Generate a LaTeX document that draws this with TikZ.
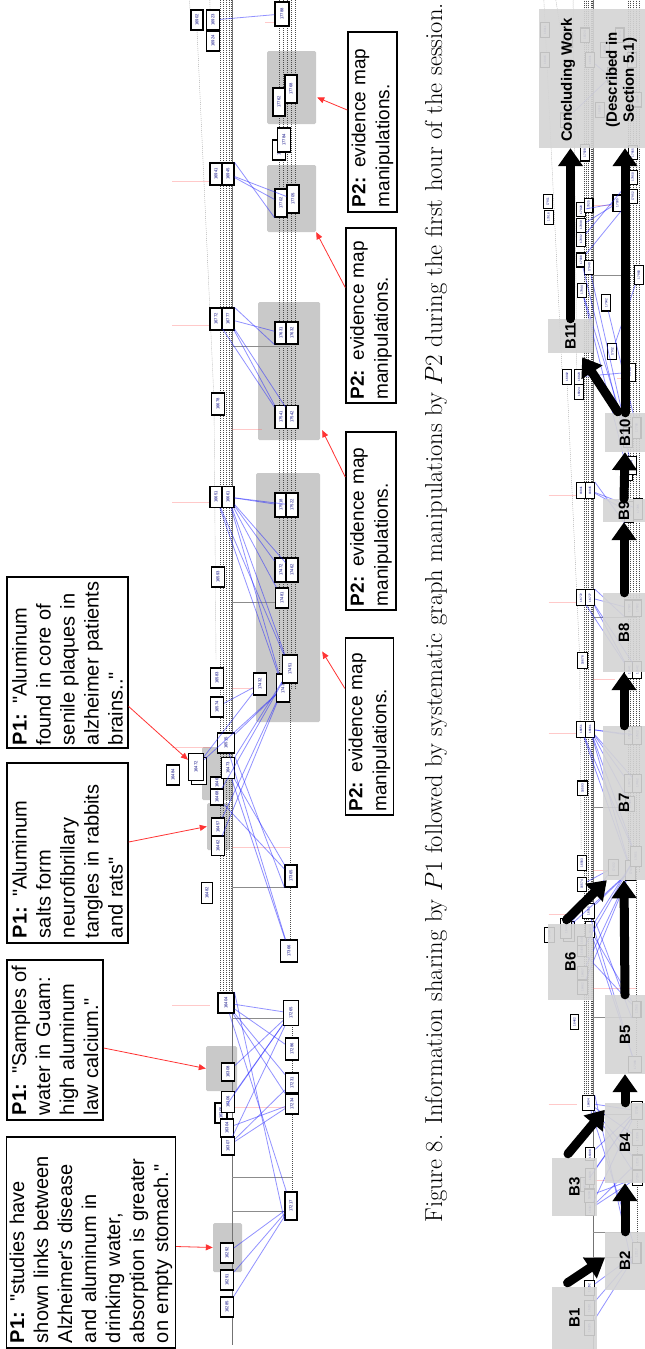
\documentclass[tikz,border=0pt]{standalone}
\usepackage{fontspec}
\usepackage{graphicx}
\newfontfamily\arial{Liberation Sans}
\usetikzlibrary{arrows.meta,calc}

\definecolor{grectc}{gray}{0.79}
\definecolor{bboxc}{gray}{0.83}

\tikzset{
  nb/.style 2 args={rotate=90, draw=black, line width=1.1pt, fill=white, inner sep=0pt,
    minimum width=#2, minimum height=#1, font=\arial\fontsize{4.2}{5}\selectfont, text=blue!50!black},
  grect/.style={fill=grectc, draw=none, rounded corners=1.5pt, inner sep=0pt},
  grecthid/.style={draw=none, inner sep=0pt},
  be/.style={draw=blue!85, opacity=0.5, line width=0.8pt},
  gl/.style={draw=black!45, line width=0.5pt},
  rl/.style={draw=red!60, opacity=0.35, line width=0.6pt},
  dl/.style={draw=black!70, line width=0.4pt, dash pattern=on 1pt off 1pt},
  dlg/.style={draw=black!35, line width=0.4pt, dash pattern=on 1pt off 1pt},
  axisl/.style={draw=black!55, line width=0.8pt},
  pone/.style={rotate=90, draw=black, line width=1.4pt, fill=white, align=left, inner sep=3pt,
    font=\arial\fontsize{20}{24}\selectfont},
  ptwo/.style={rotate=90, draw=black, line width=1.5pt, fill=white, align=left, inner sep=3pt,
    font=\arial\fontsize{19}{24}\selectfont},
  rarrow/.style={draw=red!80, line width=0.8pt, -{Triangle[length=7pt,width=6pt]}},
  bbox/.style={fill=bboxc, fill opacity=0.9, draw=none, inner sep=0pt},
  blab/.style={font=\arial\bfseries\fontsize{15}{17}\selectfont, inner sep=0pt},
  barrow/.style={draw=black, line width=9pt, line cap=round, -{Triangle[length=18pt,width=24pt]}},
}

\newcommand\drawgraph[2]{%
  % grey regions
  \node[#2, minimum width=31, minimum height=45] (#1g1) at (221.5,1068.5) {};
  \node[#2, minimum width=29, minimum height=49] (#1g2) at (227.5,1247.5) {};
  \node[#2, minimum width=23, minimum height=47] (#1g3) at (218.5,826.5) {};
  \node[#2, minimum width=31, minimum height=53] (#1g4) at (217.5,773.5) {};
  \node[#2, minimum width=64, minimum height=249] (#1g5) at (288,597.5) {};
  \node[#2, minimum width=62, minimum height=138] (#1g6) at (289,371) {};
  \node[#2, minimum width=49, minimum height=67] (#1g7) at (291.5,198.5) {};
  \node[#2, minimum width=49, minimum height=73] (#1g8) at (291.5,87.5) {};
  % axis and bands
  \draw[axisl] (232,-500) -- (232,1345);
  \foreach \xx in {220,223,226,229,231}{\draw[dl] (\xx,-500) -- (\xx,1000);}
  \foreach \xx in {279,283,287,291,295}{\draw[dl] (\xx,-500) -- (\xx,690);}
  \draw[dl] (290,690) -- (290,950);
  \draw[dl] (292,1013) -- (292,1205);
  \draw[dlg] (165,-500) -- (190,10);
  \draw[dlg] (205,-500) -- (210,10);
  \draw[dlg] (197,30) -- (214,400) -- (216,660);
  \draw[dlg] (180,-500) -- (213,-300);
  % grey horizontals
  \draw[gl] (232,1018) -- (292,1018);
  \draw[gl] (232,1177) -- (292,1177);
  \draw[gl] (232,1211) -- (292,1211);
  \draw[gl] (232,887) -- (290,887);
  \draw[gl] (232,602) -- (285,602);
  \draw[gl] (232,346) -- (290,346);
  \draw[gl] (232,-118) -- (300,-118);
  % faint red horizontals
  \draw[rl] (172,1005) -- (210,1005);
  \draw[rl] (172,747) -- (210,747);
  \draw[rl] (172,502) -- (210,502);
  \draw[rl] (172,325) -- (210,325);
  \draw[rl] (172,181) -- (210,181);
  \draw[rl] (232,1107) -- (292,1107);
  \draw[rl] (232,847) -- (290,847);
  \draw[rl] (232,688) -- (255,688);
  \draw[rl] (232,429) -- (262,429);
  \draw[rl] (265,22) -- (290,22);
  \draw[rl] (225,-212) -- (262,-212);
  % nodes near the axis
  \node[nb={13}{20}] (#1n1) at (227,1307) {16285};
  \node[nb={13}{20}] (#1n2) at (227,1280) {16291};
  \node[nb={13}{20}] (#1n3) at (227,1253) {16292};
  \node[nb={12}{20}] (#1n5) at (221,1113) {16305};
  \node[nb={13}{21}] (#1n4) at (228,1102) {16306};
  \node[nb={13}{18}] (#1n7) at (227,1128) {16304};
  \node[nb={13}{18}] (#1n6) at (228,1146) {16307};
  \node[nb={13}{18}] (#1n8) at (228,1072) {16308};
  \node[nb={16}{20}] (#1n9) at (226,1003) {16404};
  \node[nb={11}{21}] (#1n10) at (207,893) {16482};
  \node[nb={13}{20}] (#1n11) at (173,775) {16484};
  \node[nb={15}{27}] (#1n12s) at (199,771) {};
  \node[nb={15}{27}] (#1n12) at (196,767) {16472};
  \node[nb={13}{18}] (#1n13a) at (218,827) {16457};
  \node[nb={13}{19}] (#1n13b) at (218,846) {16462};
  \node[nb={13}{12}] (#1n14) at (217,783) {1646};
  \node[nb={13}{16}] (#1n15) at (217,797) {16468};
  \node[nb={13}{21}] (#1n16) at (228,768) {16473};
  \node[nb={17}{20}] (#1n17) at (226,743) {16515};
  \node[nb={13}{20}] (#1n18) at (217,707) {16574};
  \node[nb={13}{20}] (#1n19) at (217,678) {16583};
  \node[nb={13}{20}] (#1n20) at (218,577) {16593};
  \node[nb={12}{21}] (#1n21a) at (216,497) {16651};
  \node[nb={12}{21}] (#1n21b) at (228,497) {16661};
  \node[nb={13}{22}] (#1n22) at (218,404) {16678};
  \node[nb={12}{22}] (#1n23a) at (216,319) {16772};
  \node[nb={12}{22}] (#1n23b) at (228,319) {16777};
  \node[nb={12}{20}] (#1n24) at (197,20) {16902};
  \node[nb={13}{20}] (#1n25a) at (213,20) {16923};
  \node[nb={13}{20}] (#1n25b) at (213,41) {16924};
  \node[nb={12}{22}] (#1n26a) at (216,174) {16941};
  \node[nb={12}{22}] (#1n26b) at (228,174) {16945};
  % right column
  \node[nb={12}{28}] (#1r1) at (291,1206) {17217};
  \node[nb={13}{20}] (#1r2a) at (292,1083) {17231};
  \node[nb={13}{20}] (#1r2b) at (292,1104) {17234};
  \node[nb={13}{22}] (#1r3) at (292,1049) {17286};
  \node[nb={15}{25}] (#1r4) at (291,1013) {17265};
  \node[nb={12}{22}] (#1r5) at (291,876) {17365};
  \node[nb={17}{22}] (#1r6) at (289,951) {17366};
  \node[nb={13}{22}] (#1r7) at (260,684) {17432};
  \node[nb={13}{28}] (#1r8) at (283,688) {17439};
  \node[nb={15}{28}] (#1r9) at (290,669) {17451};
  \node[nb={13}{20}] (#1r10) at (282,598) {17481};
  \node[nb={12}{24}] (#1r11a) at (281,570) {17472};
  \node[nb={12}{24}] (#1r11b) at (292,570) {17462};
  \node[nb={12}{24}] (#1r12a) at (281,505) {17518};
  \node[nb={12}{24}] (#1r12b) at (292,505) {17522};
  \node[nb={12}{23}] (#1r13a) at (281,417) {17541};
  \node[nb={12}{23}] (#1r13b) at (292,417) {17542};
  \node[nb={12}{22}] (#1r14a) at (281,333) {17631};
  \node[nb={12}{22}] (#1r14b) at (292,333) {17632};
  \node[nb={12}{28}] (#1r15a) at (281,203) {17702};
  \node[nb={12}{28}] (#1r15b) at (293,199) {17705};
  \node[nb={13}{20}] (#1r16b) at (279,150) {17781};
  \node[nb={13}{24}] (#1r16a) at (284,140) {17784};
  \node[nb={12}{28}] (#1r17a) at (279,102) {17762};
  \node[nb={12}{28}] (#1r17b) at (291,89) {17768};
  \node[nb={14}{24}] (#1r18) at (282,14) {17788};
  % blue edges
  \draw[be] (#1n1) -- (#1r1);
  \draw[be] (#1n2) -- (#1r1);
  \draw[be] (#1n3) -- (#1r1);
  \draw[be] (#1n9) -- (#1r1);
  \draw[be] (#1n9.south east) -- (#1r1.north west);
  \draw[be] (#1n9) -- (#1r2a);
  \draw[be] (#1n9) -- (#1r2b);
  \draw[be] (#1n9) -- (#1r3);
  \draw[be] (#1n9) -- (#1r4);
  \draw[be] (#1n8) -- (#1r4);
  \draw[be] (#1n4) -- (#1r4);
  \draw[be] (#1n5) -- (#1r4);
  \draw[be] (#1n6) -- (#1r2a);
  \draw[be] (#1n6) -- (#1r2b);
  \draw[be] (#1n7) -- (#1r2b);
  \draw[be] (#1n6) -- (#1r4);
  \draw[be] (#1n16) -- (#1r5);
  \draw[be] (#1n16.south east) -- (#1r5.north west);
  \draw[be] (#1n16) -- (#1r6);
  \draw[be] (#1n17) -- (#1r6);
  \draw[be] (#1n15) -- (#1r5);
  \draw[be] (#1n12) -- (#1r7);
  \draw[be] (#1n12) -- (#1r8);
  \draw[be] (#1n17) -- (#1r8);
  \draw[be] (#1n16) -- (#1r9);
  \draw[be] (#1n13a) -- (#1r8);
  \draw[be] (#1n13b) -- (#1r8);
  \draw[be] (#1n15) -- (#1r9);
  \draw[be] (#1n18) -- (#1r7);
  \draw[be] (#1n21b) -- (#1r12a);
  \draw[be] (#1n21b) -- (#1r12b);
  \draw[be] (#1n21b) -- (#1r11a);
  \draw[be] (#1n21b) -- (#1r11b);
  \draw[be] (#1n21b) -- (#1r10);
  \draw[be] (#1n21b) -- (#1r9);
  \draw[be] (#1n21b) -- (#1r8);
  \draw[be] (#1n21a) -- (#1r9);
  \draw[be] (#1n21a) -- (#1r8);
  \draw[be] (#1n23b) -- (#1r14a);
  \draw[be] (#1n23b.south east) -- (#1r14a.north west);
  \draw[be] (#1n23b) -- (#1r13a);
  \draw[be] (#1n23b) -- (#1r13b);
  \draw[be] (#1n23a) -- (#1r13a);
  \draw[be] (#1n26b) -- (#1r15a);
  \draw[be] (#1n26b.south east) -- (#1r15a.north west);
  \draw[be] (#1n26b) -- (#1r15b);
  \draw[be] (#1n25a) -- (#1r18);
}

% nodes that lie above the top of the upper graph: only the lower graph shows them
\newcommand\drawlater[1]{%
  \node[nb={12}{19}] (#1u1) at (171,-217) {17911};
  \node[nb={12}{19}] (#1u2) at (172,-196) {17916};
  \node[nb={12}{19}] (#1u3) at (216,-206) {17920};
  \node[nb={12}{19}] (#1u4) at (226,-212) {17925};
  \node[nb={12}{19}] (#1u5) at (216,-185) {17930};
  \node[nb={12}{19}] (#1u6) at (216,-166) {17932};
  \node[nb={12}{19}] (#1u7) at (216,-138) {17938};
  \node[nb={12}{19}] (#1u8) at (227,-128) {17940};
  \node[nb={12}{19}] (#1u9) at (217,-97) {17944};
  \node[nb={12}{22}] (#1u10) at (250,-80) {17942};
  \node[nb={12}{22}] (#1u11) at (258,-14) {17912};
  \node[nb={12}{22}] (#1u12) at (265,-215) {17935};
  \node[nb={12}{19}] (#1u13) at (286,-250) {17950};
  \node[nb={12}{19}] (#1u14) at (286,-224) {17952};
  \node[nb={12}{19}] (#1u15) at (286,-283) {17955};
  \node[nb={12}{22}] (#1u16) at (221,-283) {17928};
  \node[nb={12}{26}] (#1u17) at (294,-118) {17960};
  \node[nb={12}{20}] (#1u18) at (167,-449) {18011};
  \node[nb={12}{20}] (#1u19) at (167,-409) {18015};
  \node[nb={12}{20}] (#1u20) at (198,-436) {18020};
  \node[nb={12}{20}] (#1u21) at (221,-442) {18024};
  \node[nb={12}{20}] (#1u22) at (228,-409) {18031};
  \node[nb={12}{20}] (#1u23) at (248,-422) {18036};
  \node[nb={12}{20}] (#1u24) at (258,-388) {18040};
  \node[nb={12}{20}] (#1u25) at (268,-442) {18042};
  \node[nb={12}{20}] (#1u26) at (285,-409) {18047};
  \node[nb={12}{20}] (#1u27) at (292,-355) {18050};
  \node[nb={12}{20}] (#1u28) at (194,-327) {18053};
  \node[nb={12}{20}] (#1u29) at (241,-341) {18058};
  \draw[be] (#1u9) -- (#1r17a);
  \draw[be] (#1u8) -- (#1r17a);
  \draw[be] (#1u10) -- (#1r17b);
  \draw[be] (#1u9) -- (#1r16b);
  \draw[be] (#1u7) -- (#1r16a);
  \draw[be] (#1u5) -- (#1u12);
  \draw[be] (#1u3) -- (#1u12);
  \draw[be] (#1u6) -- (#1u13);
  \draw[be] (#1u7) -- (#1u14);
  \draw[be] (#1u11) -- (#1u17);
  \draw[be] (#1u22) -- (#1u27);
  \draw[be] (#1u28) -- (#1u24);
}

\begin{document}
\begin{tikzpicture}[x=1pt,y=-1pt]
\useasboundingbox (0,0) rectangle (645,1349);
\fill[white] (0,0) rectangle (645,1349);

% ---------- upper graph ----------
\begin{scope}
  \clip (140,0) rectangle (340,1349);
  \drawgraph{t-}{grect}
\end{scope}

% P1 boxes
\node[pone, text width=201, minimum width=211, minimum height=168] (p1a) at (91,1242.5)
  {\textbf{P1:} "studies have\\shown links between\\Alzheimer's disease\\and aluminum in\\drinking water,\\absorption is greater\\on empty stomach."};
\node[pone, text width=150, minimum width=160, minimum height=96] (p1b) at (55,1040)
  {\textbf{P1:} "Samples of\\water in Guam:\\high aluminum\\law calcium."};
\node[pone, text width=170, minimum width=180, minimum height=121] (p1c) at (67.5,853)
  {\textbf{P1:} "Aluminum\\salts form\\neurofibrillary\\tangles in rabbits\\and rats"};
\node[pone, text width=165, minimum width=171, minimum height=121] (p1d) at (67.5,662.5)
  {\textbf{P1:} "Aluminum\\found in core of\\senile plaques in\\alzheimer patients\\brains.."};

\draw[rarrow] ($(p1a.south)+(0,4)$) -- (t-g2.west);
\draw[rarrow] ($(p1b.south)+(0,8)$) -- (t-g1.west);
\draw[rarrow] ($(p1c.south)+(0,-11)$) -- (t-g3.west);
\draw[rarrow] ($(p1d.south)+(0,44)$) -- (t-n12);

% P2 boxes
\node[ptwo, text width=170, minimum width=180, minimum height=49] (p2a) at (372.5,122)
  {\textbf{P2:} evidence map\\manipulations.};
\node[ptwo, text width=168, minimum width=175, minimum height=50] (p2b) at (371,315.5)
  {\textbf{P2:} evidence map\\manipulations.};
\node[ptwo, text width=170, minimum width=178, minimum height=50] (p2c) at (371,521)
  {\textbf{P2:} evidence map\\manipulations.};
\node[ptwo, text width=170, minimum width=177, minimum height=47] (p2d) at (369.5,726.5)
  {\textbf{P2:} evidence map\\manipulations.};

\draw[rarrow] ($(p2a.north)+(0,-12)$) -- ($(t-g8.east)+(1,10)$);
\draw[rarrow] ($(p2b.north)+(0,-28)$) -- (t-g7.south east);
\draw[rarrow] ($(p2c.north)+(0,-44)$) -- ($(t-g6.south east)+(2,-10)$);
\draw[rarrow] ($(p2d.north)+(0,-38)$) -- ($(t-g5.east)+(2,54)$);

% caption
\node[rotate=90, anchor=base, inner sep=0pt, font=\fontsize{24.5}{29}\selectfont] (cap) at (442,613)
  {Figure 8. Information sharing by $P1$ followed by systematic graph manipulations by $P2$ during the first hour of the session.};

% ---------- lower graph ----------
\begin{scope}
  \clip (528,0) rectangle (645,1349);
  \begin{scope}[shift={(421.55,362)}, scale=0.739, transform shape]
    \drawgraph{b-}{grecthid}
    \drawlater{b-}
  \end{scope}
  % stage boxes
  \node[bbox, minimum width=45, minimum height=62] (B1) at (574.5,1318) {};
  \node[bbox, minimum width=40, minimum height=58] (B2) at (625,1261) {};
  \node[bbox, minimum width=45, minimum height=58] (B3) at (574.5,1187) {};
  \node[bbox, minimum width=40, minimum height=80] (B4) at (625,1143) {};
  \node[bbox, minimum width=40, minimum height=79] (B5) at (625,1034.5) {};
  \node[bbox, minimum width=45, minimum height=76] (B6) at (570.5,962) {};
  \node[bbox, minimum width=42, minimum height=154] (B7) at (624,803) {};
  \node[bbox, minimum width=42, minimum height=79] (B8) at (624,632.5) {};
  \node[bbox, minimum width=42, minimum height=23] (B9) at (624,510.5) {};
  \node[bbox, minimum width=40, minimum height=39] (B10) at (625,432.5) {};
  \node[bbox, minimum width=45, minimum height=34] (B11) at (570.5,336) {};
  \node[bbox, minimum width=106, minimum height=139] (BC) at (592,78.5) {};
\end{scope}

\foreach \b in {B1,B2,B3,B4,B5,B6,B7,B8,B9,B10,B11}{
  \node[blab, rotate=90] (l\b) at (\b) {\b};
}
\node[blab, rotate=90, align=center] (lBC) at (599,80)
  {Concluding Work\\[28pt](Described in\\Section 5.1)};

% stage arrows
\draw[barrow] ($(B1.north)+(-7,-4)$) -- ($(B2.west)+(0,-3)$);
\draw[barrow] (B2.north) -- (B4.south);
\draw[barrow] ($(B3.north)+(-6.5,-4)$) -- ($(B4.north west)+(0,7)$);
\draw[barrow] (B4.north) -- (B5.south);
\draw[barrow] (B5.north) -- (B7.south);
\draw[barrow] ($(B6.north)+(-4,-4)$) -- ($(B7.south west)+(4,0)$);
\draw[barrow] (B7.north) -- (B8.south);
\draw[barrow] (B8.north) -- (B9.south);
\draw[barrow] (B9.north) -- (B10.south);
\draw[barrow] ($(B10.north west)+(13,-1)$) -- ($(B11.south east)+(-11,4)$);
\draw[barrow] (B10.north) -- (B10.north |- BC.south);
\draw[barrow] (B11.north) -- (B11.north |- BC.south);
\end{tikzpicture}
\end{document}
